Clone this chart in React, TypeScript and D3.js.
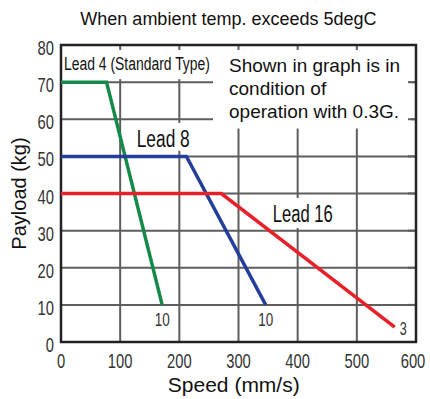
import * as d3 from "d3";

// speed ticks (mm/s) and payload ticks (kg)
const speedTicks = [0, 100, 200, 300, 400, 500, 600];
const payloadTicks = [0, 10, 20, 30, 40, 50, 60, 70, 80];

// curves: [speed, payload]
const lead4 = [[0, 70], [77, 70], [171, 10]];
const lead8 = [[0, 50], [212, 50], [346, 10]];
const lead16 = [[0, 40], [271, 40], [564, 4]];

const endLabels = [
  { text: "10", s: 171, p: 10 },
  { text: "10", s: 346, p: 10 },
  { text: "3", s: 564, p: 4 },
];

const W = 430;
const H = 399;
const m = { top: 45, right: 14, bottom: 57, left: 61 };

const narrow = "'Liberation Sans', Arial, sans-serif";

export default function App() {
  const x = d3.scaleLinear().domain([0, 600]).range([m.left, W - m.right]);
  const y = d3.scaleLinear().domain([0, 80]).range([H - m.bottom, m.top]);
  const line = d3
    .line<number[]>()
    .x((d) => x(d[0]))
    .y((d) => y(d[1]));

  const x0 = x(0), x1 = x(600), y0 = y(0), y1 = y(80);
  const grid = "#5e5e5e";
  const tick = 5;

  // white label boxes over the grid
  const boxes = [
    { x: x0, y: y1, w: x(257) - x0, h: y(70.8) - y1 },
    { x: x(257), y: y1, w: x(591) - x(257), h: y(57.5) - y1 },
    { x: x(113), y: y(59), w: x(222) - x(113), h: y(51.5) - y(59) },
    { x: x(350), y: y(38.8), w: x(468) - x(350), h: y(30.7) - y(38.8) },
  ];

  return (
    <svg
      width={W}
      height={H}
      style={{ position: "absolute", left: 0, top: 0, background: "#fff" }}
    >
      <text
        x={x(283)}
        y={25}
        textAnchor="middle"
        fontFamily="'Liberation Sans', Arial, sans-serif"
        fontSize={18}
        fill="#111"
      >
        When ambient temp. exceeds 5degC
      </text>

      {/* grid */}
      {speedTicks.slice(1, -1).map((t) => (
        <line key={"gx" + t} x1={x(t)} x2={x(t)} y1={y0} y2={y1} stroke={grid} strokeWidth={2} />
      ))}
      {payloadTicks.slice(1, -1).map((t) => (
        <line key={"gy" + t} x1={x0} x2={x1} y1={y(t)} y2={y(t)} stroke={grid} strokeWidth={2} />
      ))}

      {boxes.map((b, i) => (
        <rect key={"b" + i} x={b.x} y={b.y} width={b.w} height={b.h} fill="#fff" />
      ))}

      {/* short ticks along the frame */}
      {speedTicks.slice(1, -1).map((t) => (
        <line key={"tt" + t} x1={x(t)} x2={x(t)} y1={y1} y2={y1 + tick} stroke={grid} strokeWidth={2} />
      ))}
      {payloadTicks.slice(1, -1).map((t) => (
        <line key={"tr" + t} x1={x1 - tick - 3} x2={x1} y1={y(t)} y2={y(t)} stroke={grid} strokeWidth={2} />
      ))}

      <rect x={x0} y={y1} width={x1 - x0} height={y0 - y1} fill="none" stroke="#222" strokeWidth={2.5} />

      {/* curves */}
      <path d={line(lead4) || ""} fill="none" stroke="#15894a" strokeWidth={3.5} />
      <path d={line(lead8) || ""} fill="none" stroke="#233f9b" strokeWidth={3.5} />
      <path d={line(lead16) || ""} fill="none" stroke="#e8202a" strokeWidth={3.5} />

      {/* tick labels */}
      {payloadTicks.map((t) => (
        <text
          key={"ly" + t}
          x={x0 - 7}
          y={y(t) + 10}
          textAnchor="end"
          fontFamily={narrow}
          fontSize={21}
          fill="#333"
          textLength={String(t).length * 8.2}
          lengthAdjust="spacingAndGlyphs"
        >
          {t}
        </text>
      ))}
      {speedTicks.map((t) => (
        <text
          key={"lx" + t}
          x={t === 600 ? x(t) - 3 : x(t)}
          y={y0 + 26}
          textAnchor="middle"
          fontFamily={narrow}
          fontSize={21}
          fill="#333"
          textLength={String(t).length * 8.2}
          lengthAdjust="spacingAndGlyphs"
        >
          {t}
        </text>
      ))}

      {/* end labels */}
      {endLabels.map((d, i) =>
        d.text === "3" ? (
          <text key={"e" + i} x={x(d.s) + 5} y={y(d.p) + 8} fontFamily={narrow} fontSize={18} fill="#333"
            textLength={7} lengthAdjust="spacingAndGlyphs">
            {d.text}
          </text>
        ) : (
          <text key={"e" + i} x={x(d.s)} y={y(d.p) + 21} textAnchor="middle" fontFamily={narrow} fontSize={18}
            fill="#333" textLength={15} lengthAdjust="spacingAndGlyphs">
            {d.text}
          </text>
        )
      )}

      {/* annotations */}
      <text x={x(5)} y={y(73.3)} fontFamily={narrow} fontSize={18} fill="#111" textLength={146} lengthAdjust="spacingAndGlyphs">
        Lead 4 (Standard Type)
      </text>
      <text x={x(128)} y={y(52.6)} fontFamily={narrow} fontSize={23} fill="#111" textLength={53} lengthAdjust="spacingAndGlyphs">
        Lead 8
      </text>
      <text x={x(358)} y={y(32.4)} fontFamily={narrow} fontSize={23} fill="#111" textLength={60} lengthAdjust="spacingAndGlyphs">
        Lead 16
      </text>
      {["Shown in graph is in", "condition of", "operation with 0.3G."].map((s, i) => (
        <text key={"n" + i} x={x(284)} y={72 + i * 23} fontFamily="'Liberation Sans', Arial, sans-serif" fontSize={19} fill="#111">
          {s}
        </text>
      ))}

      {/* axis titles */}
      <text
        x={x(292)}
        y={392}
        textAnchor="middle"
        fontFamily="'Liberation Sans', Arial, sans-serif"
        fontSize={21}
        fill="#111"
      >
        Speed (mm/s)
      </text>
      <text
        transform={`translate(26,${(y0 + y1) / 2}) rotate(-90)`}
        textAnchor="middle"
        fontFamily="'Liberation Sans', Arial, sans-serif"
        fontSize={20}
        fill="#111"
      >
        Payload (kg)
      </text>
    </svg>
  );
}
